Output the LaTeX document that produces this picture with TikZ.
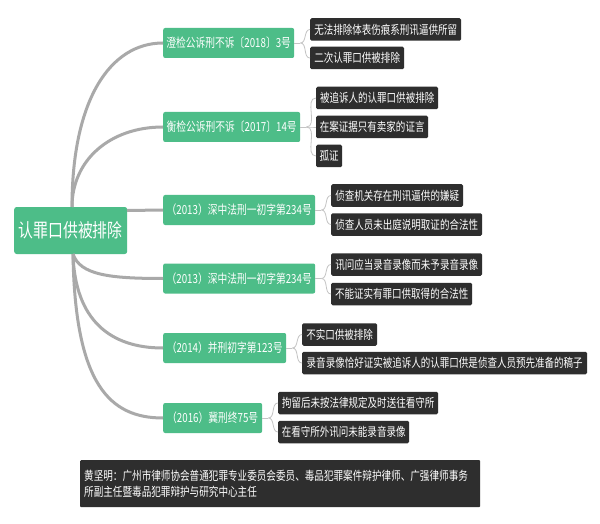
\documentclass[tikz,border=0pt]{standalone}
\usepackage{fontspec}
\setmainfont{Noto Sans CJK SC}[FakeStretch=0.78]
\usetikzlibrary{calc}
\definecolor{mgreen}{HTML}{4DBD88}
\definecolor{mdark}{HTML}{2E2E2E}
\definecolor{mline}{HTML}{A9A9A9}
\definecolor{sline}{HTML}{C4C4C4}
\begin{document}
\begin{tikzpicture}[x=1pt,y=-1pt,
  gbox/.style={fill=mgreen,text=white,rounded corners=2pt,minimum height=30pt,inner xsep=2pt,inner ysep=0pt,anchor=west,font=\fontsize{12.5}{14}\selectfont},
  dbox/.style={fill=mdark,text=white,rounded corners=1.5pt,minimum height=22.5pt,inner xsep=2pt,inner ysep=0pt,anchor=west,font=\fontsize{12.2}{14}\selectfont},
  rootbox/.style={fill=mgreen,text=white,rounded corners=2.5pt,minimum width=113pt,minimum height=47pt,inner sep=0pt,anchor=west,font=\fontsize{19}{22}\selectfont},
  footbox/.style={fill=mdark,text=white,rounded corners=1pt,text width=392pt,inner xsep=4pt,inner ysep=0pt,minimum height=47pt,anchor=north west,align=left,font=\fontsize{12.3}{16}\selectfont},
  mainline/.style={draw=mline,line width=3pt},
  subline/.style={draw=sline,line width=0.8pt}]
\useasboundingbox (0,0) rectangle (600,524);
\fill[white] (0,0) rectangle (600,524);

% root
\node[rootbox] (root) at (14,230.5) {认罪口供被排除};

% green nodes
\node[gbox,minimum width=131pt] (g1) at (163,43) {澄检公诉刑不诉〔2018〕3号};
\node[gbox,minimum width=137pt] (g2) at (163,127) {衡检公诉刑不诉〔2017〕14号};
\node[gbox,minimum width=152pt] (g3) at (163,210) {（2013）深中法刑一初字第234号};
\node[gbox,minimum width=152pt] (g4) at (163,278.5) {（2013）深中法刑一初字第234号};
\node[gbox,minimum width=123pt] (g5) at (163,348) {（2014）并刑初字第123号};
\node[gbox,minimum width=99pt] (g6) at (163,418) {（2016）冀刑终75号};

% dark nodes
\node[dbox,minimum width=151pt] (d11) at (310,29.5) {无法排除体表伤痕系刑讯逼供所留};
\node[dbox,minimum width=94pt] (d12) at (310,58) {二次认罪口供被排除};
\node[dbox,minimum width=122pt] (d21) at (316,98) {被追诉人的认罪口供被排除};
\node[dbox,minimum width=112pt] (d22) at (316,127) {在案证据只有卖家的证言};
\node[dbox,minimum width=26pt] (d23) at (316,156) {孤证};
\node[dbox,minimum width=132pt] (d31) at (331,195.5) {侦查机关存在刑讯逼供的嫌疑};
\node[dbox,minimum width=151pt] (d32) at (331,224.5) {侦查人员未出庭说明取证的合法性};
\node[dbox,minimum width=151pt] (d41) at (331,264.5) {讯问应当录音录像而未予录音录像};
\node[dbox,minimum width=141pt] (d42) at (331,294) {不能证实有罪口供取得的合法性};
\node[dbox,minimum width=75pt] (d51) at (302,334.5) {不实口供被排除};
\node[dbox,minimum width=285pt] (d52) at (302,363) {录音录像恰好证实被追诉人的认罪口供是侦查人员预先准备的稿子};
\node[dbox,minimum width=160pt] (d61) at (278,403) {拘留后未按法律规定及时送往看守所};
\node[dbox,minimum width=131pt] (d62) at (278,432) {在看守所外讯问未能录音录像};

% footer
\node[footbox] (foot) at (80,460) {黄坚明：广州市律师协会普通犯罪专业委员会委员、毒品犯罪案件辩护律师、广强律师事务\\所副主任暨毒品犯罪辩护与研究中心主任};

% main connectors
\coordinate (rt) at (72,207);
\coordinate (rb) at (73,254);
\coordinate (rr) at (127,210.5);
\draw[mainline] (rt) .. controls (72,100) and (110,43) .. (g1.west);
\draw[mainline] (rt) .. controls (72,160) and (110,127) .. (g2.west);
\draw[mainline] (rr) -- (g3.west);
\draw[mainline] (rb) .. controls (80,275) and (110,278.5) .. (g4.west);
\draw[mainline] (rb) .. controls (75,320) and (110,348) .. (g5.west);
\draw[mainline] (rb) .. controls (75,385) and (110,418) .. (g6.west);

% sub connectors
\foreach \g/\kids in {g1/{d11,d12},g2/{d21,d22,d23},g3/{d31,d32},g4/{d41,d42},g5/{d51,d52},g6/{d61,d62}}{
  \coordinate (j) at ($(\g.east)+(6,0)$);
  \draw[subline] (\g.east) -- (j);
  \foreach \k in \kids {
    \draw[subline] (j) to[out=0,in=180] (\k.west);
  }
}
\end{tikzpicture}
\end{document}
